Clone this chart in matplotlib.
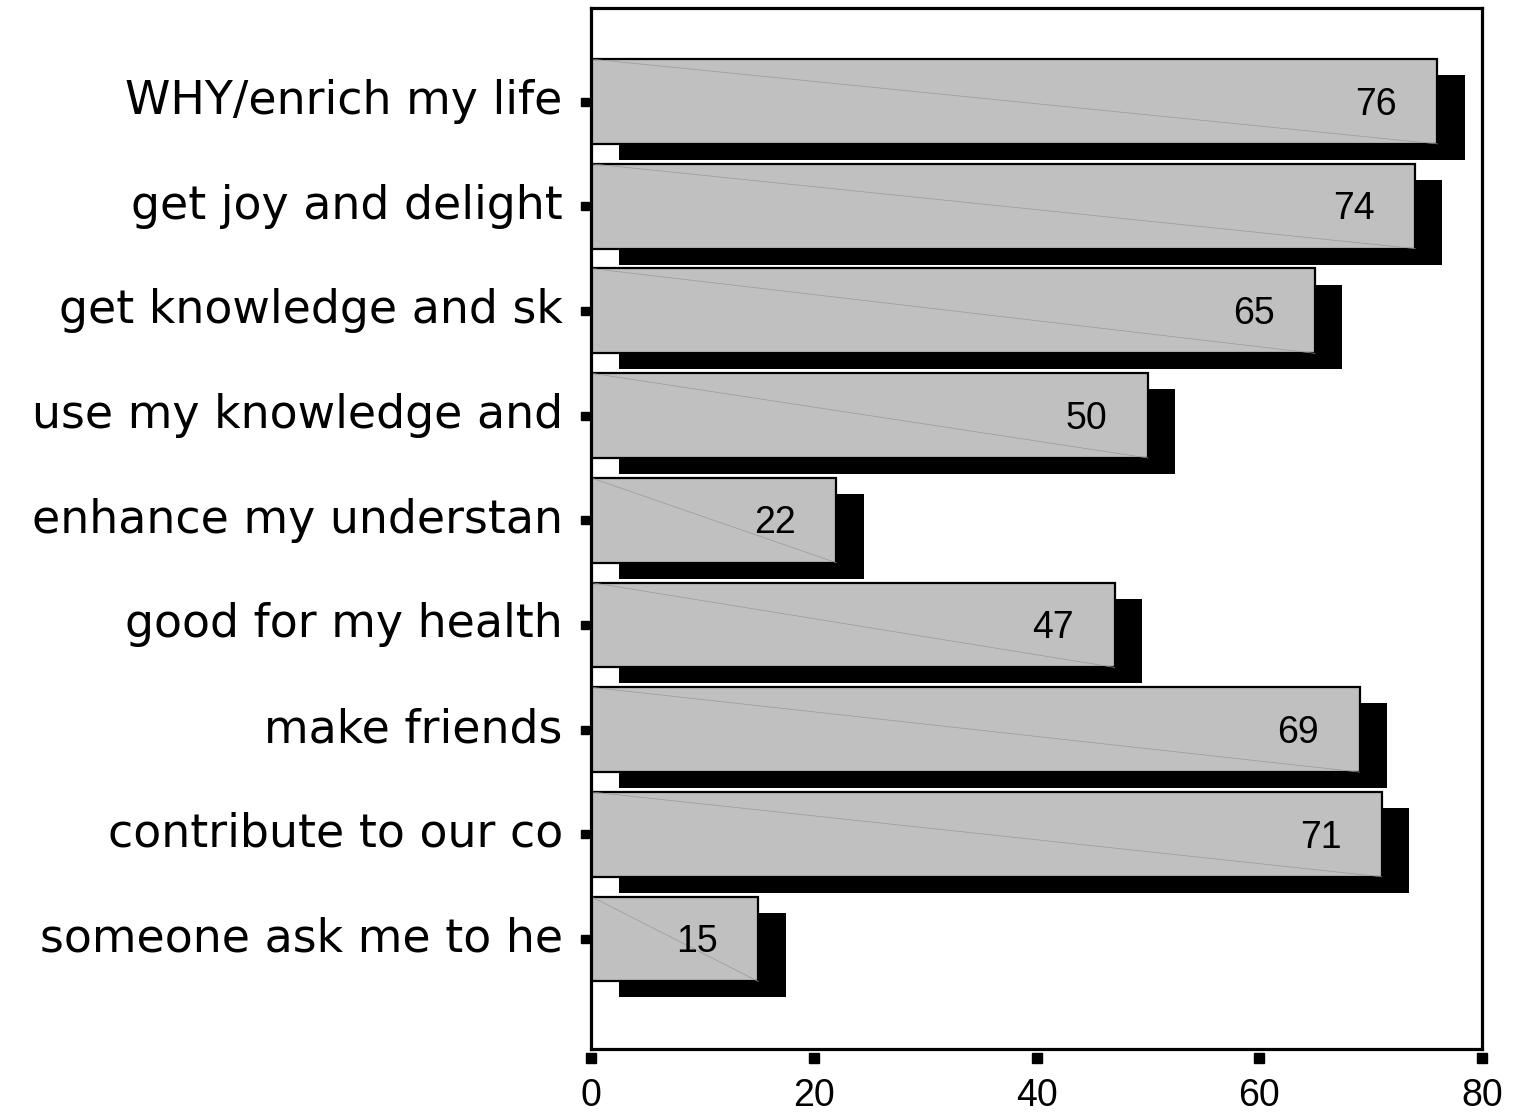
import numpy as np
import matplotlib.pyplot as plt
from matplotlib import transforms

labels = ["WHY/enrich my life", "get joy and delight", "get knowledge and sk",
          "use my knowledge and", "enhance my understan", "good for my health",
          "make friends", "contribute to our co", "someone ask me to he"]
values = [76, 74, 65, 50, 22, 47, 69, 71, 15]
xticks = [0, 20, 40, 60, 80]

fig = plt.figure(figsize=(15.2, 11.13), dpi=100)
ax = fig.add_axes([0.389, 0.0575, 0.586, 0.9353])

y = np.arange(len(values))
h = 0.81
dx, dy = 2.45, 0.153

# shadow
ax.barh(y + dy, values, left=dx, height=h, color="black", zorder=1)
# bars
ax.barh(y, values, height=h, color="#c0c0c0", edgecolor="black", linewidth=1.6, zorder=2)
# thin diagonal artifacts
for yi, v in zip(y, values):
    ax.plot([0, v], [yi - h / 2, yi + h / 2], color="#999999", lw=0.5, zorder=3)
    ax.text(v - 5.5, yi + 0.03, str(v), ha="center", va="center",
            fontsize=27, family="Liberation Sans", zorder=4)

ax.set_xlim(0, 80)
ax.set_ylim(len(values) - 1 + 1.05, -0.893)

for s in ax.spines.values():
    s.set_linewidth(2.3)
    s.set_zorder(5)

ax.set_yticks([])
ax.set_xticks([])

# detached square tick marks
tb = transforms.blended_transform_factory(ax.transData, ax.transAxes)
ax.plot(xticks, [-0.0085] * len(xticks), ls="none", marker="s", ms=6.5, color="black",
        transform=tb, clip_on=False)
for t in xticks:
    ax.text(t, -0.028, str(t), transform=tb, ha="center", va="top",
            fontsize=27, family="Liberation Sans")

lb = transforms.blended_transform_factory(ax.transAxes, ax.transData)
ax.plot([-0.0075] * len(y), y, ls="none", marker="s", ms=5.5, color="black",
        transform=lb, clip_on=False)
for yi, lab in zip(y, labels):
    ax.text(-0.032, yi, lab, transform=lb, ha="right", va="center",
            fontsize=33, family="DejaVu Sans")

fig.savefig("out.png", dpi=100)
